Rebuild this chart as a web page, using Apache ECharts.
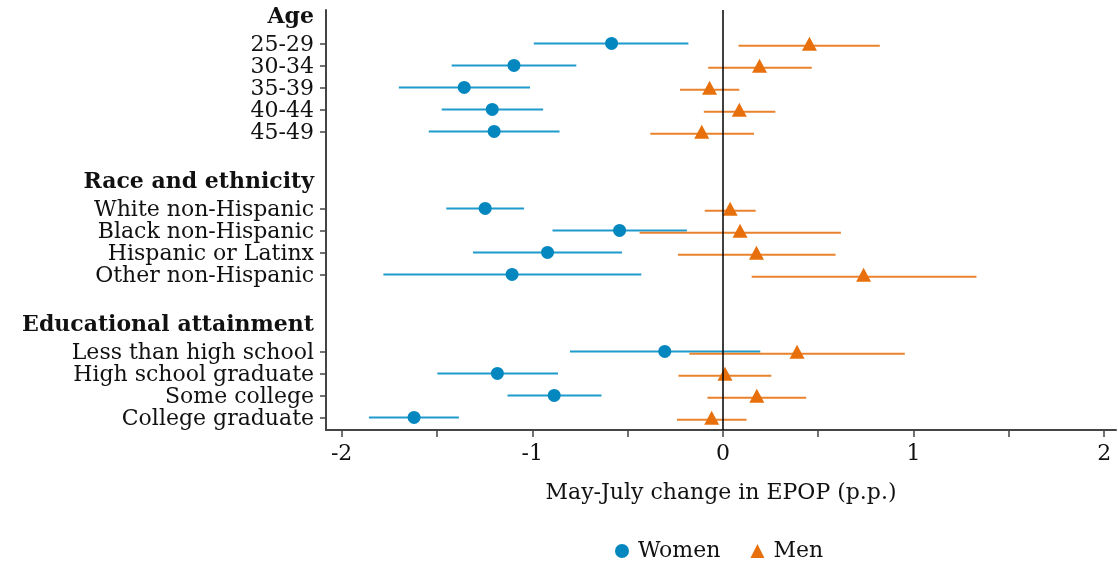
<!DOCTYPE html>
<html>
<head>
<meta charset="utf-8">
<script src="https://cdn.jsdelivr.net/npm/echarts@6/dist/echarts.min.js"></script>
<style>
  html, body { margin: 0; padding: 0; background: #fff; }
  #main { width: 1118px; height: 562px; }
</style>
</head>
<body>
<div id="main"></div>
<script>
// row labels (headers are bold, no tick)
var labels = ['Age', '25-29', '30-34', '35-39', '40-44', '45-49',
  'Race and ethnicity', 'White non-Hispanic', 'Black non-Hispanic', 'Hispanic or Latinx', 'Other non-Hispanic',
  'Educational attainment', 'Less than high school', 'High school graduate', 'Some college', 'College graduate'];
var isHeader = [1, 0, 0, 0, 0, 0, 1, 0, 0, 0, 0, 1, 0, 0, 0, 0];
// row position on the y axis (top = first)
var rowPos = [-1.25, 0, 1, 2, 3, 4, 6.25, 7.5, 8.5, 9.5, 10.5, 12.75, 14, 15, 16, 17];

// estimates (p.p.), null for header rows
var womenEst = [null, -0.584, -1.096, -1.357, -1.210, -1.200, null, -1.247, -0.542, -0.920, -1.106, null, -0.305, -1.183, -0.885, -1.620];
var womenLo  = [null, -0.992, -1.423, -1.700, -1.475, -1.543, null, -1.451, -0.894, -1.311, -1.781, null, -0.802, -1.498, -1.130, -1.857];
var womenHi  = [null, -0.181, -0.769, -1.012, -0.943, -0.857, null, -1.043, -0.189, -0.529, -0.428, null,  0.196, -0.865, -0.637, -1.385];
var menEst   = [null,  0.454,  0.192, -0.070,  0.086, -0.111, null,  0.038,  0.090,  0.176,  0.738, null,  0.389,  0.011,  0.178, -0.059];
var menLo    = [null,  0.082, -0.077, -0.225, -0.100, -0.381, null, -0.095, -0.437, -0.236,  0.151, null, -0.176, -0.233, -0.081, -0.241];
var menHi    = [null,  0.823,  0.466,  0.086,  0.275,  0.163, null,  0.172,  0.619,  0.591,  1.330, null,  0.954,  0.254,  0.437,  0.124];

var xTicks = [-2, -1.5, -1, -0.5, 0, 0.5, 1, 1.5, 2];
var xLabels = [-2, -1, 0, 1, 2];

var WOMEN = '#0487bf', WOMEN_LINE = '#1e9bcc';
var MEN = '#e8700c', MEN_LINE = '#e9822c';
var FONT = 'DejaVu Serif';
var MEN_SHIFT = 0.1; // men drawn a hair below women

var chart = echarts.init(document.getElementById('main'));

function pts(est, shift) {
  var out = [];
  for (var i = 0; i < est.length; i++) {
    if (est[i] != null) out.push([est[i], rowPos[i] + shift]);
  }
  return out;
}
function bars(lo, hi, shift) {
  var out = [];
  for (var i = 0; i < lo.length; i++) {
    if (lo[i] != null) out.push([lo[i], hi[i], rowPos[i] + shift]);
  }
  return out;
}
function barSeries(data, color) {
  return {
    type: 'custom',
    silent: true,
    data: data,
    encode: { x: [0, 1], y: 2 },
    renderItem: function (params, api) {
      var a = api.coord([api.value(0), api.value(2)]);
      var b = api.coord([api.value(1), api.value(2)]);
      return {
        type: 'line',
        shape: { x1: a[0], y1: a[1], x2: b[0], y2: b[1] },
        style: { stroke: color, lineWidth: 2 }
      };
    },
    z: 2
  };
}

var tickRows = [];
for (var i = 0; i < rowPos.length; i++) if (!isHeader[i]) tickRows.push(rowPos[i]);

var option = {
  animation: false,
  grid: { left: 326, right: 2, top: 10, bottom: 132 },
  legend: {
    top: 535,
    left: 610,
    itemGap: 30,
    itemWidth: 14,
    itemHeight: 14,
    textStyle: { fontFamily: FONT, fontSize: 22, color: '#111', padding: [0, 0, 0, 4] },
    data: [
      { name: 'Women', icon: 'circle', itemStyle: { color: WOMEN } },
      { name: 'Men', icon: 'triangle', itemStyle: { color: MEN } }
    ]
  },
  xAxis: {
    type: 'value',
    min: -2.082,
    max: 2.062,
    name: 'May-July change in EPOP (p.p.)',
    nameLocation: 'middle',
    nameGap: 52,
    nameTextStyle: { fontFamily: FONT, fontSize: 22, color: '#111' },
    axisLine: { show: true, onZero: false, lineStyle: { color: '#444', width: 2 } },
    axisTick: { show: true, length: 7, customValues: xTicks, lineStyle: { color: '#444', width: 1.5 } },
    axisLabel: {
      customValues: xLabels,
      fontFamily: FONT, fontSize: 22, color: '#111', margin: 13,
      formatter: function (v) { return String(v); }
    },
    splitLine: { show: false }
  },
  yAxis: {
    type: 'value',
    inverse: true,
    min: -1.52,
    max: 17.57,
    axisLine: { show: true, onZero: false, lineStyle: { color: '#444', width: 2 } },
    axisTick: { show: true, length: 6, customValues: tickRows, lineStyle: { color: '#444', width: 1.5 } },
    axisLabel: {
      customValues: rowPos,
      margin: 12,
      formatter: function (v) {
        var i = rowPos.indexOf(v);
        if (i < 0) return '';
        return isHeader[i] ? '{h|' + labels[i] + '}' : '{r|' + labels[i] + '}';
      },
      rich: {
        h: { fontFamily: FONT, fontSize: 22, fontWeight: 'bold', color: '#111', padding: [3, 0, 0, 0] },
        r: { fontFamily: FONT, fontSize: 22, color: '#111', padding: [3, 0, 0, 0] }
      }
    },
    splitLine: { show: false }
  },
  series: [
    barSeries(bars(womenLo, womenHi, 0), WOMEN_LINE),
    barSeries(bars(menLo, menHi, MEN_SHIFT), MEN_LINE),
    {
      name: 'Women',
      type: 'scatter',
      symbol: 'circle',
      symbolSize: 13,
      itemStyle: { color: WOMEN, opacity: 1 },
      data: pts(womenEst, 0),
      z: 3,
      markLine: {
        silent: true,
        symbol: 'none',
        label: { show: false },
        lineStyle: { color: '#000', width: 1.5, type: 'solid' },
        data: [{ xAxis: 0 }]
      }
    },
    {
      name: 'Men',
      type: 'scatter',
      symbol: 'triangle',
      symbolSize: [15, 14],
      symbolOffset: [0, -2],
      itemStyle: { color: MEN, opacity: 1 },
      data: pts(menEst, MEN_SHIFT),
      z: 3
    }
  ]
};

chart.setOption(option);
</script>
</body>
</html>
